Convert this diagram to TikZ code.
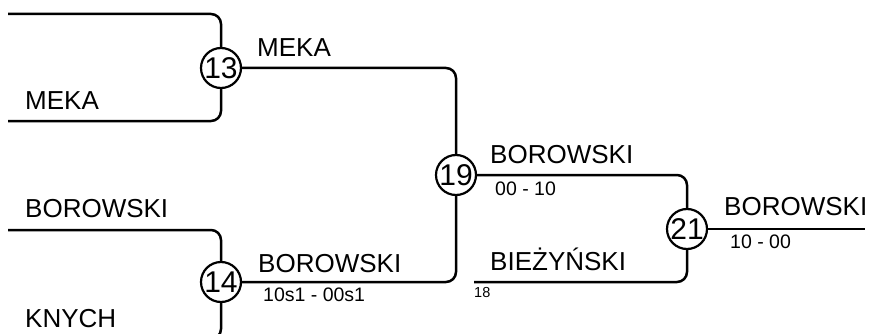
\documentclass[tikz,border=0pt]{standalone}
\usepackage{fontspec}
\setmainfont{Liberation Sans}
\usetikzlibrary{positioning}

\tikzset{
	match/.style={circle, draw, line width=2.2pt, fill=white, inner sep=0pt, minimum size=40pt, font=\fontsize{30}{30}\selectfont},
	link/.style={line width=2.5pt, rounded corners=10pt},
	player/.style={anchor=base west, inner sep=0pt, font=\fontsize{26}{30}\selectfont},
	score/.style={anchor=base west, inner sep=0pt, font=\fontsize{19.5}{22}\selectfont},
	seed/.style={anchor=base west, inner sep=0pt, font=\fontsize{14.5}{16}\selectfont}
}

\begin{document}
\begin{tikzpicture}[x=1pt, y=-1pt]
\useasboundingbox (0,0) rectangle (869,334);
\clip (0,0) rectangle (869,334);

%----------MATCHES-------------%
\node [match] (m13) at (221,68) {13};
\node [match] (m14) at (221,282) {14};
\node [match] (m19) at (456,175) {19};
\node [match] (m21) at (687,229) {21};

%----------ENTRIES-------------%
\coordinate (e1) at (8,14);
\coordinate (e2) at (8,121);
\coordinate (e3) at (8,230);
\coordinate (e4) at (8,339);
\coordinate (e5) at (474,282);
\coordinate (out) at (865,229);

%----------LINKS-------------%
\draw[link] (e1) -- (e1 -| m13.north) -- (m13.north);
\draw[link] (e2) -- (e2 -| m13.south) -- (m13.south);
\draw[link] (e3) -- (e3 -| m14.north) -- (m14.north);
\draw[link] (e4) -- (e4 -| m14.south) -- (m14.south);
\draw[link] (m13.east) -- (m13.east -| m19.north) -- (m19.north);
\draw[link] (m14.east) -- (m14.east -| m19.south) -- (m19.south);
\draw[link] (m19.east) -- (m19.east -| m21.north) -- (m21.north);
\draw[link] (e5) -- (e5 -| m21.south) -- (m21.south);
\draw[link] (m21.east) -- (out);

%----------NAMES-------------%
\node [player] (n2) at (25,110) {MEKA};
\node [player] (n3) at (25,217) {BOROWSKI};
\node [player] (n4) at (25,327) {KNYCH};
\node [player] (w13) at (257,57) {MEKA};
\node [player] (w14) at (258,272) {BOROWSKI};
\node [player] (w19) at (490,163) {BOROWSKI};
\node [player] (n5) at (490,270) {BIEŻYŃSKI};
\node [player] (w21) at (724,215) {BOROWSKI};

%----------SCORES-------------%
\node [score] (s14) at (263,301) {10s1 - 00s1};
\node [score] (s19) at (495,195) {00 - 10};
\node [score] (s21) at (730,248) {10 - 00};
\node [seed] (d5) at (474,297) {18};

\end{tikzpicture}
\end{document}
